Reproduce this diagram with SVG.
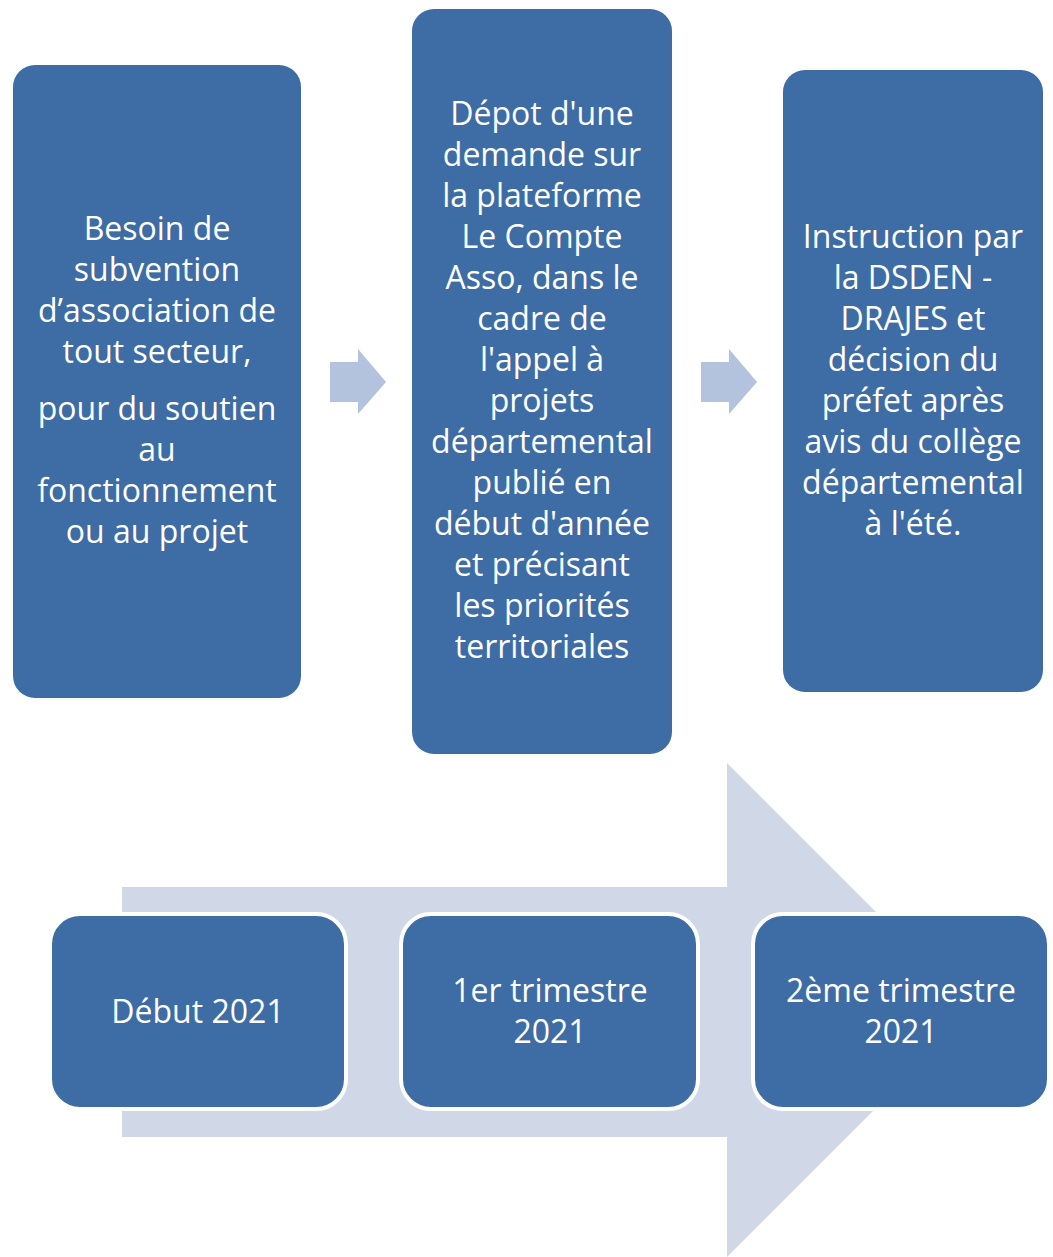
<svg xmlns="http://www.w3.org/2000/svg" width="1053" height="1257" viewBox="0 0 1053 1257">
  <style>
    .box { fill: #3e6ca4; }
    .tbox { fill: #3e6ca4; stroke: #ffffff; stroke-width: 4; }
    .t { font-family: "Open Sans", "Liberation Sans", sans-serif; font-size: 32px; fill: #ffffff; text-anchor: middle; }
    .arr { fill: #b3c3de; }
    .big { fill: #d0d8e8; }
  </style>
  <rect width="1053" height="1257" fill="#ffffff"/>
  <g id="timeline-arrow">
    <polygon class="big" points="122,887 727,887 727,763 974,1010 727,1257 727,1137 122,1137"/>
  </g>
  <g id="connectors">
    <polygon class="arr" points="330,362 358,362 358,349 386,382 358,414 358,402 330,402"/>
    <polygon class="arr" points="701,362 729,362 729,349 757,382 729,414 729,402 701,402"/>
  </g>
  <g id="node1">
    <rect class="box" x="13" y="65" width="288" height="633" rx="22"/>
    <text class="t"><tspan x="157" y="240">Besoin de</tspan><tspan x="157" y="281">subvention</tspan><tspan x="157" y="322">d’association de</tspan><tspan x="157" y="363">tout secteur,</tspan><tspan x="157" y="420">pour du soutien</tspan><tspan x="157" y="461">au</tspan><tspan x="157" y="502">fonctionnement</tspan><tspan x="157" y="543">ou au projet</tspan></text>
  </g>
  <g id="node2">
    <rect class="box" x="412" y="9" width="260" height="745" rx="22"/>
    <text class="t"><tspan x="542" y="125">Dépot d'une</tspan><tspan x="542" y="166">demande sur</tspan><tspan x="542" y="207">la plateforme</tspan><tspan x="542" y="248">Le Compte</tspan><tspan x="542" y="289">Asso, dans le</tspan><tspan x="542" y="330">cadre de</tspan><tspan x="542" y="371">l'appel à</tspan><tspan x="542" y="412">projets</tspan><tspan x="542" y="453">départemental</tspan><tspan x="542" y="494">publié en</tspan><tspan x="542" y="535">début d'année</tspan><tspan x="542" y="576">et précisant</tspan><tspan x="542" y="617">les priorités</tspan><tspan x="542" y="658">territoriales</tspan></text>
  </g>
  <g id="node3">
    <rect class="box" x="783" y="70" width="260" height="622" rx="22"/>
    <text class="t"><tspan x="913" y="248">Instruction par</tspan><tspan x="913" y="289">la DSDEN -</tspan><tspan x="913" y="330">DRAJES et</tspan><tspan x="913" y="371">décision du</tspan><tspan x="913" y="412">préfet après</tspan><tspan x="913" y="453">avis du collège</tspan><tspan x="913" y="494">départemental</tspan><tspan x="913" y="535">à l'été.</tspan></text>
  </g>
  <g id="date1">
    <rect class="tbox" x="50" y="914" width="296" height="195" rx="30"/>
    <text class="t" x="198" y="1023">Début 2021</text>
  </g>
  <g id="date2">
    <rect class="tbox" x="401" y="914" width="297" height="195" rx="30"/>
    <text class="t"><tspan x="550" y="1002">1er trimestre</tspan><tspan x="550" y="1043">2021</tspan></text>
  </g>
  <g id="date3">
    <rect class="tbox" x="753" y="914" width="296" height="195" rx="30"/>
    <text class="t"><tspan x="901" y="1002">2ème trimestre</tspan><tspan x="901" y="1043">2021</tspan></text>
  </g>
</svg>
